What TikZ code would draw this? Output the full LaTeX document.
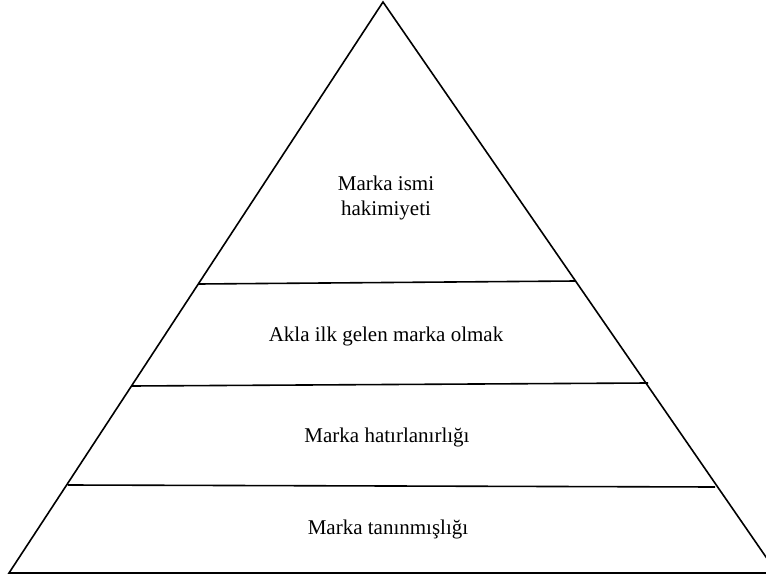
\documentclass[tikz,border=0pt]{standalone}
\usepackage{fontspec}
\setmainfont{Liberation Serif}
\begin{document}
\begin{tikzpicture}[x=1pt,y=-1pt,line width=1.6pt,
  tier/.style={font=\fontsize{21}{25}\selectfont,align=center,inner sep=0pt}]
  \useasboundingbox (0,0) rectangle (766,580);
  \clip (0,0) rectangle (766,580);
  \coordinate (apex) at (383,2);
  \coordinate (baseL) at (9,573);
  \coordinate (baseR) at (777,573);
  \draw[line join=miter] (apex) -- (baseL) -- (baseR) -- cycle;
  \draw (199,284) -- (576,281);
  \draw (132,386) -- (648,383);
  \draw (68,485) -- (715,487);
  \node[tier] (dominance) at (386,198) {Marka ismi\\hakimiyeti};
  \node[tier] (topmind) at (386,336) {Akla ilk gelen marka olmak};
  \node[tier] (recall) at (387,437) {Marka hatırlanırlığı};
  \node[tier] (recognition) at (388,529) {Marka tanınmışlığı};
\end{tikzpicture}
\end{document}
